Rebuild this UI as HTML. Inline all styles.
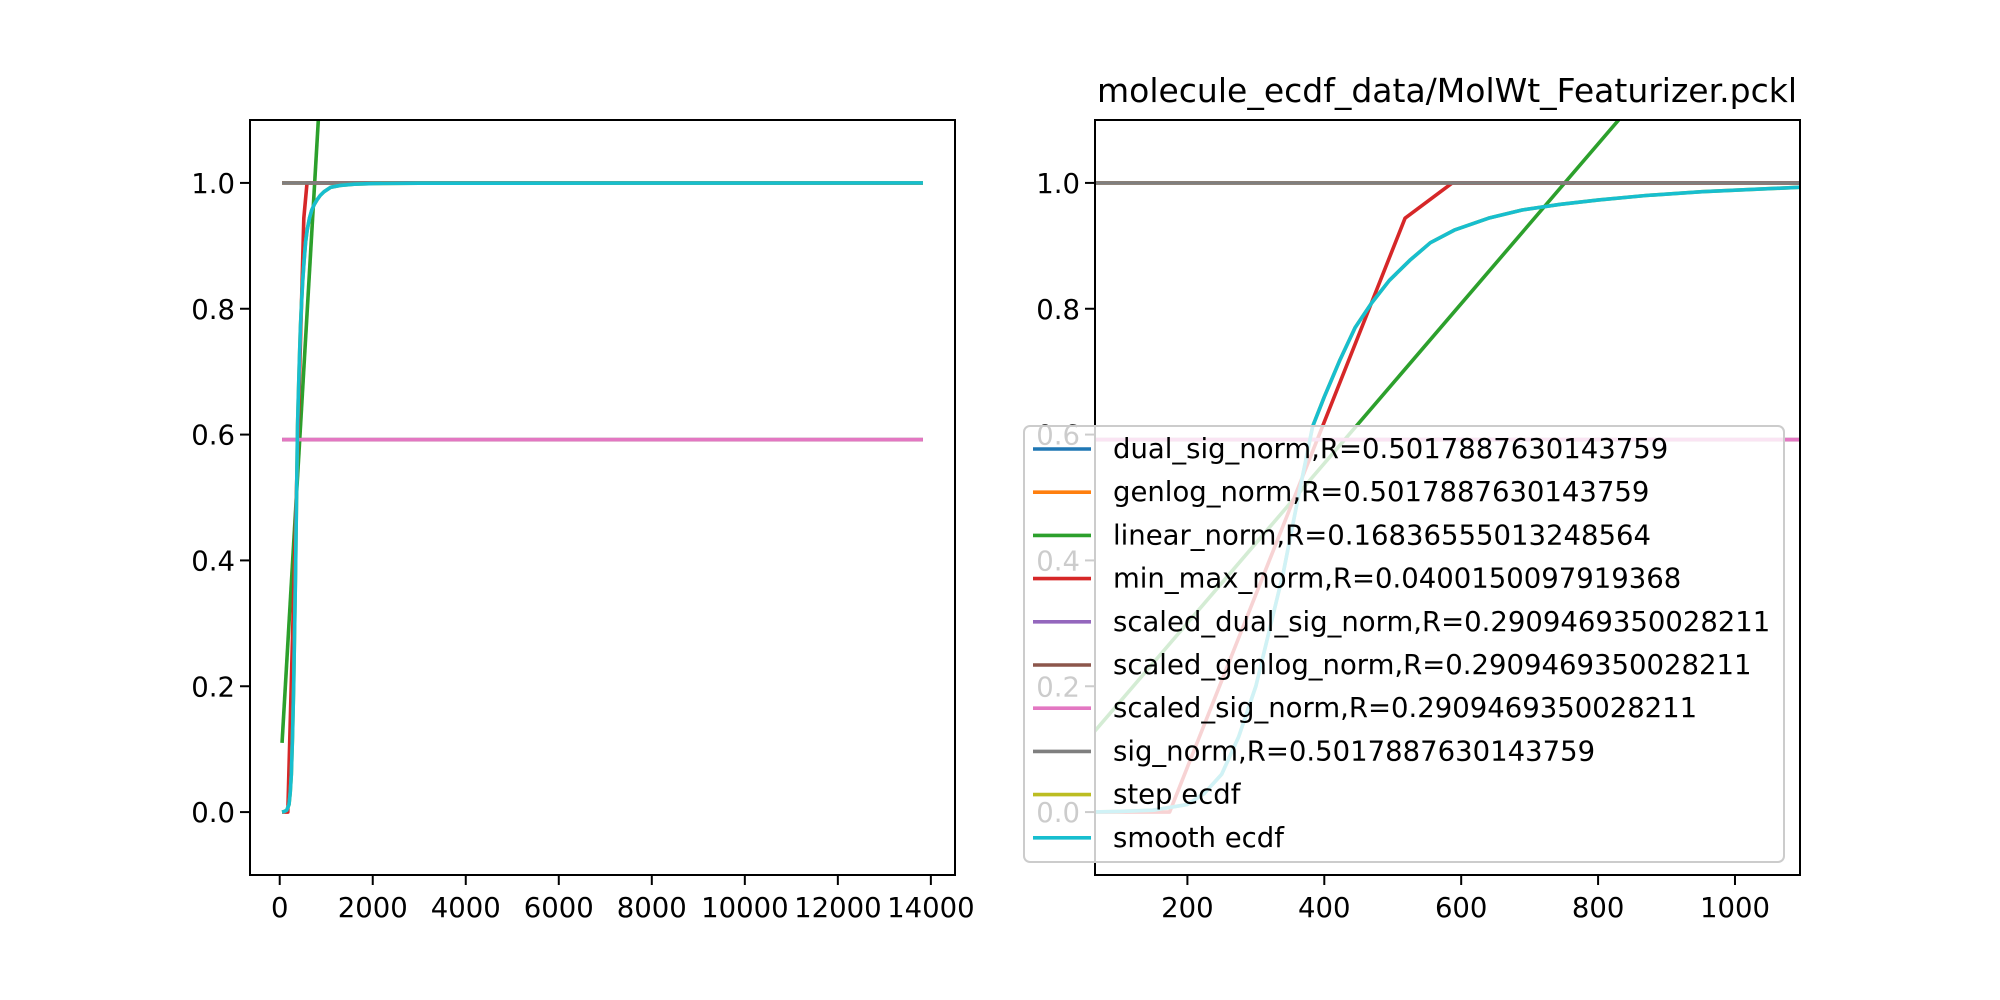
<!DOCTYPE html>
<html><head><meta charset="utf-8"><style>
html,body{margin:0;padding:0;background:#fff;}
svg{display:block;font-family:"DejaVu Sans","Liberation Sans",sans-serif;}
</style></head><body>
<svg id="fig" width="2000" height="1000" viewBox="0 0 2000 1000" xmlns="http://www.w3.org/2000/svg">
<defs>
<clipPath id="clipL"><rect x="250" y="120" width="705" height="755"/></clipPath>
<clipPath id="clipR"><rect x="1095" y="120" width="705" height="755"/></clipPath>
</defs>
<rect width="2000" height="1000" fill="#fff"/>
<g id="axL"></g>
<g id="axR"></g>
<text x="1447" y="102" font-size="33" text-anchor="middle">molecule_ecdf_data/MolWt_Featurizer.pckl</text>
<g id="legend"></g>
</svg>
<script>
const seriesNames = ["dual_sig_norm,R=0.5017887630143759","genlog_norm,R=0.5017887630143759","linear_norm,R=0.16836555013248564","min_max_norm,R=0.0400150097919368","scaled_dual_sig_norm,R=0.2909469350028211","scaled_genlog_norm,R=0.2909469350028211","scaled_sig_norm,R=0.2909469350028211","sig_norm,R=0.5017887630143759","step ecdf","smooth ecdf"];
const seriesColors = ["#1f77b4","#ff7f0e","#2ca02c","#d62728","#9467bd","#8c564b","#e377c2","#7f7f7f","#bcbd22","#17becf"];
const flatX = [50, 13830];
const oneY = [1.0, 1.0];
const scaledY = [0.592, 0.592];
const linearX = [50, 13830];
const linearY = [0.11, 17.6];
const minmaxX = [50, 174, 518, 587, 13830];
const minmaxY = [0, 0, 0.944, 1.0, 1.0];
const ecdfX = [50, 100, 150, 200, 225, 250, 275, 300, 320, 340, 360, 383, 400, 423, 445, 469, 495, 525, 555, 590, 640, 689, 745, 801, 870, 952, 1093, 1300, 1600, 2000, 3000, 13830];
const ecdfY = [0, 0.001, 0.003, 0.012, 0.03, 0.06, 0.12, 0.2, 0.29, 0.38, 0.49, 0.613, 0.66, 0.719, 0.77, 0.809, 0.845, 0.877, 0.905, 0.925, 0.944, 0.957, 0.966, 0.973, 0.98, 0.986, 0.993, 0.996, 0.998, 0.999, 0.9995, 1.0];
const yTicks = [0.0, 0.2, 0.4, 0.6, 0.8, 1.0];
const yTickLabels = ["0.0","0.2","0.4","0.6","0.8","1.0"];
const xTicksL = [0, 2000, 4000, 6000, 8000, 10000, 12000, 14000];
const xTickLabelsL = ["0","2000","4000","6000","8000","10000","12000","14000"];
const xTicksR = [200, 400, 600, 800, 1000];
const xTickLabelsR = ["200","400","600","800","1000"];

const series = [
 {x: flatX, y: oneY}, {x: flatX, y: oneY}, {x: linearX, y: linearY}, {x: minmaxX, y: minmaxY},
 {x: flatX, y: scaledY}, {x: flatX, y: scaledY}, {x: flatX, y: scaledY}, {x: flatX, y: oneY},
 {x: ecdfX, y: ecdfY}, {x: ecdfX, y: ecdfY}
];
const NS = "http://www.w3.org/2000/svg";
function mk(tag, attrs, parent){const e=document.createElementNS(NS,tag);for(const k in attrs)e.setAttribute(k,attrs[k]);parent.appendChild(e);return e;}

function drawAxes(g, left, xmin, xmax, ticks, labels, clip, side){
  const top=120, h=755, w=705, ymin=-0.1, ymax=1.1;
  const sx=v=>left+(v-xmin)/(xmax-xmin)*w;
  const sy=v=>top+(ymax-v)/(ymax-ymin)*h;
  const lines=mk("g",{"clip-path":"url(#"+clip+")"},g);
  series.forEach((s,i)=>{
    const d=s.x.map((xv,j)=>(j?"L":"M")+sx(xv).toFixed(2)+","+sy(s.y[j]).toFixed(2)).join(" ");
    const p=mk("path",{d:d,fill:"none",stroke:seriesColors[i],"stroke-width":3.6,"stroke-linejoin":"round"},lines);
    
    
  });
  yTicks.forEach((t,i)=>{
    const y=sy(t);
    const tk=mk("line",{x1:left-10,x2:left,y1:y,y2:y,stroke:"#000","stroke-width":2},g);
    
    
    const tx=mk("text",{x:left-15,y:y+10,"font-size":27.5,"text-anchor":"end"},g);
    tx.textContent=yTickLabels[i];
    
    
  });
  ticks.forEach((t,i)=>{
    const x=sx(t);
    const tk=mk("line",{x1:x,x2:x,y1:top+h,y2:top+h+10,stroke:"#000","stroke-width":2},g);
    
    
    const tx=mk("text",{x:x,y:top+h+42,"font-size":27.5,"text-anchor":"middle"},g);
    tx.textContent=labels[i];
    
    
  });
  const fr=mk("rect",{x:left,y:top,width:w,height:h,fill:"none",stroke:"#000","stroke-width":2},g);
  
  
}
drawAxes(document.getElementById("axL"),250,-639,14519,xTicksL,xTickLabelsL,"clipL","left");
drawAxes(document.getElementById("axR"),1095,65,1095,xTicksR,xTickLabelsR,"clipR","right");

const lg=document.getElementById("legend");
const box=mk("rect",{x:1024,y:426,width:760,height:436,rx:6,fill:"#fff","fill-opacity":0.8,stroke:"#cccccc","stroke-width":2},lg);


seriesNames.forEach((n,i)=>{
  const y=449+i*43.2;
  const ln=mk("line",{x1:1033,x2:1091,y1:y,y2:y,stroke:seriesColors[i],"stroke-width":3.6},lg);
  
  
  const t=mk("text",{x:1113,y:y+9,"font-size":27.5},lg);
  t.textContent=n;
  
  
});
</script>
</body></html>
